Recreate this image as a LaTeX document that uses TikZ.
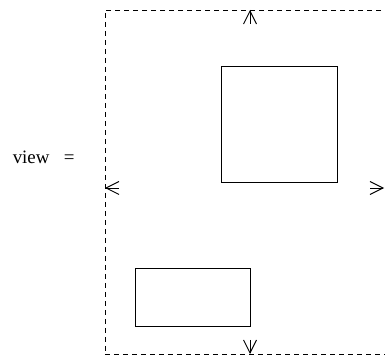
\documentclass[tikz,border=0pt]{standalone}
\usepackage{fontspec}
\setmainfont{Liberation Serif}
\usetikzlibrary{arrows.meta}

\begin{document}
\begin{tikzpicture}[
  x=1bp, y=1bp, line width=0.9bp,
  win/.style={draw, dash pattern=on 5bp off 4bp, minimum width=281bp,
              minimum height=344bp, inner sep=0pt, outer sep=0pt},
  box/.style={draw, inner sep=0pt, outer sep=0pt},
  scrl/.style={-{Straight Barb[length=13bp, width=13bp]}}
]
  \useasboundingbox (0,0) rectangle (385,358);

  % Viewport
  \node[win] (view) at (245.5,176) {};
  \node[font=\fontsize{19}{22}\selectfont, anchor=west] (lbl) at (9,201) {view\ \ \ =};

  % Windows inside the view
  \node[box, minimum width=116bp, minimum height=116bp] (big)   at (279,234) {};
  \node[box, minimum width=115bp, minimum height=58bp]  (small) at (192.5,61) {};

  % Scroll arrows
  \coordinate (up)    at (250,348);
  \coordinate (down)  at (250,4);
  \coordinate (left)  at (105,170);
  \coordinate (right) at (384,170);
  \draw[scrl] ([yshift=-14bp]up)    -- (up);
  \draw[scrl] ([yshift=14bp]down)   -- (down);
  \draw[scrl] ([xshift=14bp]left)   -- (left);
  \draw[scrl] ([xshift=-14bp]right) -- (right);

\end{tikzpicture}
\end{document}
